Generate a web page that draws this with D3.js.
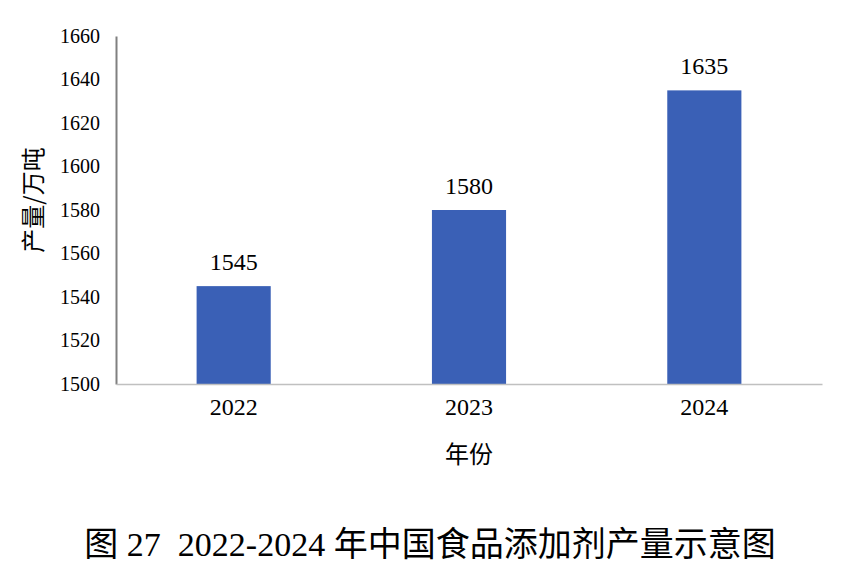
<!DOCTYPE html>
<meta charset="utf-8">
<style>
body { margin: 0; background: #fff; }
</style>
<svg width="853" height="588"></svg>
<script src="https://d3js.org/d3.v7.min.js"></script>
<script>

var years = ["2022", "2023", "2024"];
var output = [1545, 1580, 1635];
var yTicks = [1500, 1520, 1540, 1560, 1580, 1600, 1620, 1640, 1660];
var captionParts = ["图", " 27  2022-2024 ", "年中国食品添加剂产量示意图"];

var serif = "'Liberation Serif', 'Times New Roman', 'DejaVu Serif', serif";
var cjk = "'Noto Sans CJK SC', sans-serif";

var svg = d3.select("svg");

var x = d3.scaleBand()
    .domain(years)
    .range([116, 822])
    .paddingInner(0.685)
    .paddingOuter(0.3425);

var y = d3.scaleLinear()
    .domain([1500, 1660])
    .range([384, 36]);

// y axis
var yAxis = svg.append("g")
    .attr("transform", "translate(116,0)")
    .call(d3.axisLeft(y).tickValues(yTicks).tickFormat(d3.format("d")).tickSize(0).tickPadding(16));
yAxis.select(".domain").attr("stroke", "#808080").attr("stroke-width", 2);
yAxis.selectAll("text")
    .style("font-family", serif)
    .style("font-size", "20px")
    .attr("fill", "#000");

// bars
svg.append("g").selectAll("rect")
    .data(output)
  .enter().append("rect")
    .attr("x", function(d, i) { return x(years[i]); })
    .attr("y", function(d) { return y(d); })
    .attr("width", x.bandwidth())
    .attr("height", function(d) { return y(1500) - y(d); })
    .attr("fill", "#3a60b6");

// x axis
var xAxis = svg.append("g")
    .attr("transform", "translate(0,384)")
    .call(d3.axisBottom(x).tickSize(0).tickPadding(14));
xAxis.select(".domain").attr("stroke", "#c0c0c0").attr("stroke-width", 1.5);
xAxis.selectAll("text")
    .style("font-family", serif)
    .style("font-size", "24px")
    .attr("fill", "#000")
    .attr("dy", "0.71em");

// value labels
svg.append("g").selectAll("text")
    .data(output)
  .enter().append("text")
    .style("font-family", serif)
    .style("font-size", "24px")
    .attr("x", function(d, i) { return x(years[i]) + x.bandwidth() / 2; })
    .attr("y", function(d) { return y(d) - 16; })
    .attr("text-anchor", "middle")
    .text(function(d) { return d; });

// axis titles
svg.append("text")
    .style("font-family", cjk)
    .style("font-size", "24px")
    .attr("transform", "translate(42,200) rotate(-90)")
    .attr("text-anchor", "middle")
    .text("产量/万吨");

svg.append("text")
    .style("font-family", cjk)
    .style("font-size", "24px")
    .attr("x", 469)
    .attr("y", 463)
    .attr("text-anchor", "middle")
    .text("年份");

// caption (digits in serif, chinese in cjk)
svg.append("text")
    .style("font-size", "34px")
    .style("white-space", "pre")
    .attr("x", 430)
    .attr("y", 556)
    .attr("text-anchor", "middle")
  .selectAll("tspan")
    .data(captionParts)
  .enter().append("tspan")
    .style("font-family", function(d, i) { return i === 1 ? serif : cjk; })
    .text(function(d) { return d; });

</script>
